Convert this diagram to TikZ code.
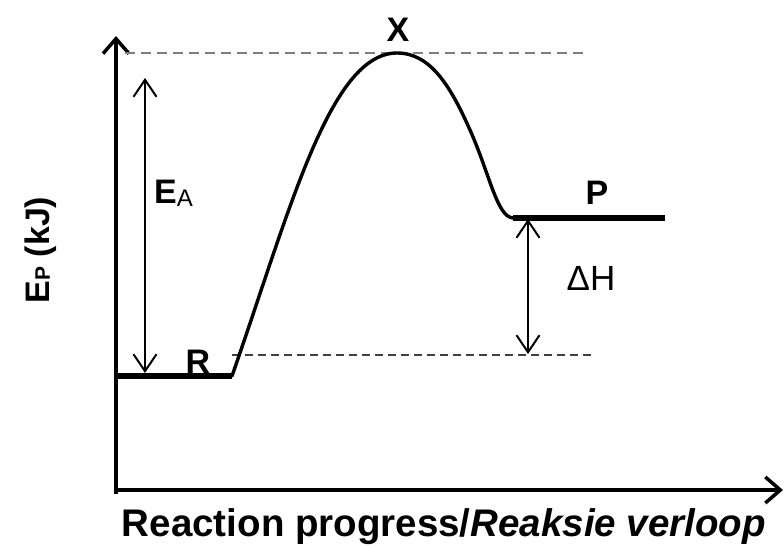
\documentclass[tikz,border=0pt]{standalone}
\usepackage{fontspec}
\setmainfont{Liberation Sans}
\usetikzlibrary{arrows.meta}
\tikzset{
  axis/.style={line width=4pt, -{Straight Barb[length=15pt,width=26pt,line width=3.5pt]}},
  level/.style={line width=5.5pt},
  curve/.style={line width=3.4pt, line cap=round},
  guide/.style={gray, line width=1.6pt, dash pattern=on 10pt off 6pt},
  guide2/.style={black!75, line width=1.2pt, dash pattern=on 8pt off 5pt},
  dim/.style={line width=2pt, {Straight Barb[length=17pt,width=23pt,line width=2pt]}-{Straight Barb[length=17pt,width=23pt,line width=2pt]}},
  lab/.style={font=\fontsize{34}{34}\selectfont\bfseries, inner sep=0pt},
}
\begin{document}
\begin{tikzpicture}[x=1pt,y=-1pt]
\useasboundingbox (0,0) rectangle (784,548);
% axes
\coordinate (Ytop) at (116,36);
\coordinate (Xend) at (783,490);
\draw[axis] (116,494) -- (Ytop);
\draw[axis] (114,490) -- (Xend);
% guides
\coordinate (G1a) at (125,53);
\coordinate (G1b) at (585,53);
\draw[guide] (G1a) -- (G1b);
\coordinate (G2a) at (232,355);
\coordinate (G2b) at (595,355);
\draw[guide2] (G2a) -- (G2b);
% levels
\coordinate (R0) at (116,376);
\coordinate (R1) at (232,376);
\coordinate (P0) at (513,218);
\coordinate (P1) at (665,218);
\draw[level] (R0) -- (R1);
\draw[level] (P0) -- (P1);
% curve
\coordinate (Xpk) at (397,53);
\draw[curve] (R1) .. controls (290,210) and (330,53) .. (Xpk)
   .. controls (430,53) and (450,85) .. (470,130)
   .. controls (490,175) and (497,217) .. (P0);
% arrows
\coordinate (EA1) at (145,78);
\coordinate (EA2) at (145,373);
\draw[dim] (EA1) -- (EA2);
\coordinate (DH1) at (528,219);
\coordinate (DH2) at (528,354);
\draw[dim] (DH1) -- (DH2);
% labels
\node[lab] (lX) at (398,30) {X};
\node[lab] (lR) at (198,362) {R};
\node[lab] (lP) at (597,193) {P};
\node[lab, anchor=base west] (lEA) at (154,204) {E\raisebox{-3pt}{\fontsize{24}{24}\selectfont\mdseries A}};
\node[inner sep=0pt, font=\fontsize{35}{35}\selectfont] (lDH) at (591,278) {ΔH};
\node[inner sep=0pt, rotate=90, font=\fontsize{34}{34}\selectfont\bfseries] (lY) at (41,250) {E\fontsize{21}{21}\selectfont P\fontsize{34}{34}\selectfont{} (kJ)};
\node[inner sep=0pt, font=\fontsize{38.5}{38.5}\selectfont\bfseries] (lXax) at (444,527) {Reaction progress/\textit{Reaksie verloop}};
\end{tikzpicture}
\end{document}
